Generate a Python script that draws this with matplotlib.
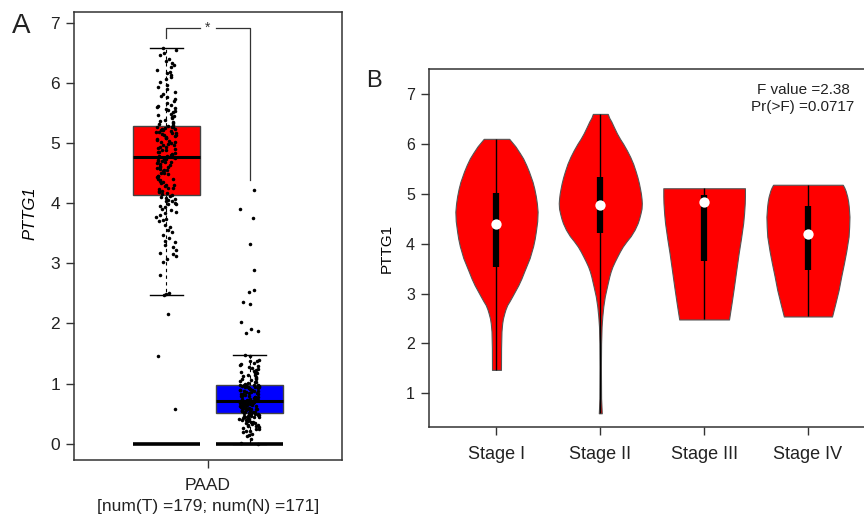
import numpy as np
import matplotlib
matplotlib.use("Agg")
import matplotlib.pyplot as plt

plt.rcParams['font.family'] = ['Liberation Sans', 'DejaVu Sans']
TXT = '#222222'
plt.rcParams['text.color'] = TXT
plt.rcParams['axes.edgecolor'] = '#333333'
plt.rcParams['xtick.color'] = '#333333'
plt.rcParams['ytick.color'] = '#333333'
plt.rcParams['xtick.labelcolor'] = TXT
plt.rcParams['ytick.labelcolor'] = TXT

# ---- panel A data (PAAD tumor vs normal) ----
groups = ['Tumor', 'Normal']
box_q1 = [4.14, 0.51]
box_med = [4.77, 0.71]
box_q3 = [5.28, 0.98]
whis_lo = [2.48, 0.0]
whis_hi = [6.58, 1.48]
box_colors = ['#FF0000', '#0000FF']

tumor_vals = [0.58, 1.46, 2.16, 2.48, 2.49, 2.51, 2.80, 3.03, 3.07, 3.12, 3.15, 3.18,
              3.22, 3.27, 3.31, 3.35, 3.38, 3.42, 3.47, 3.52, 3.55, 3.61, 3.64, 3.70,
              3.72, 3.74, 3.77, 3.80, 3.83, 3.85, 3.88, 3.91, 3.93, 3.96, 3.98, 3.99,
              4.01, 4.03, 4.04, 4.06, 4.07, 4.09, 4.10, 4.12, 4.13,
              4.15, 4.17, 4.18, 4.20, 4.21, 4.23, 4.25, 4.26, 4.28, 4.30, 4.31, 4.33,
              4.35, 4.37, 4.38, 4.40, 4.41, 4.43, 4.45, 4.46, 4.48, 4.50, 4.51, 4.53,
              4.55, 4.56, 4.57, 4.59, 4.60, 4.61, 4.62, 4.64, 4.65, 4.67, 4.68, 4.69,
              4.70, 4.71, 4.72, 4.73, 4.74, 4.75, 4.76, 4.76, 4.77,
              4.78, 4.79, 4.80, 4.81, 4.82, 4.84, 4.85, 4.86, 4.88, 4.89, 4.90, 4.92,
              4.93, 4.94, 4.96, 4.97, 4.98, 5.00, 5.01, 5.02, 5.04, 5.05, 5.06, 5.08,
              5.09, 5.10, 5.12, 5.13, 5.14, 5.15, 5.16, 5.17, 5.18, 5.19, 5.20, 5.21,
              5.22, 5.23, 5.24, 5.25, 5.26, 5.27, 5.27, 5.28,
              5.30, 5.32, 5.33, 5.35, 5.37, 5.39, 5.41, 5.43, 5.45, 5.47, 5.49, 5.51,
              5.53, 5.55, 5.56, 5.58, 5.60, 5.62, 5.64, 5.66, 5.70, 5.73, 5.76, 5.79,
              5.82, 5.85, 5.90, 5.93, 5.97, 6.02, 6.06, 6.10, 6.13, 6.16, 6.19, 6.22,
              6.26, 6.30, 6.33, 6.36, 6.40, 6.46, 6.50, 6.55, 6.58]

normal_vals = [0.00, 0.01, 0.08, 0.13, 0.15, 0.17, 0.19, 0.21, 0.22, 0.24, 0.25, 0.27,
               0.28, 0.29, 0.30, 0.31, 0.32, 0.33, 0.34, 0.35, 0.36, 0.37, 0.38, 0.39,
               0.40, 0.41, 0.42, 0.43, 0.43, 0.44, 0.45, 0.45, 0.46, 0.47, 0.47, 0.48,
               0.48, 0.49, 0.49, 0.50, 0.50, 0.51, 0.51,
               0.52, 0.52, 0.53, 0.54, 0.54, 0.55, 0.56, 0.56, 0.57, 0.57, 0.58, 0.58,
               0.59, 0.59, 0.60, 0.60, 0.61, 0.61, 0.62, 0.62, 0.63, 0.63, 0.64, 0.64,
               0.65, 0.65, 0.66, 0.66, 0.66, 0.67, 0.67, 0.68, 0.68, 0.68, 0.69, 0.69,
               0.69, 0.70, 0.70, 0.70, 0.70, 0.71, 0.71,
               0.72, 0.72, 0.73, 0.74, 0.74, 0.75, 0.76, 0.77, 0.77, 0.78, 0.79, 0.80,
               0.80, 0.81, 0.82, 0.83, 0.83, 0.84, 0.85, 0.86, 0.86, 0.87, 0.88, 0.88,
               0.89, 0.90, 0.90, 0.91, 0.92, 0.92, 0.93, 0.94, 0.94, 0.95, 0.95, 0.96,
               0.96, 0.97, 0.97, 0.98, 0.98, 0.98,
               1.00, 1.01, 1.02, 1.03, 1.05, 1.06, 1.07, 1.08, 1.10, 1.11, 1.12, 1.14,
               1.15, 1.17, 1.18, 1.20, 1.21, 1.23, 1.25, 1.26, 1.28, 1.30, 1.31, 1.33,
               1.35, 1.37, 1.38, 1.40, 1.46, 1.47,
               1.85, 1.88, 1.91, 2.03, 2.33, 2.36, 2.52, 2.55, 2.89, 3.33, 3.76, 3.91, 4.22]

# ---- panel B data (violins by stage) ----
stages = ['Stage I', 'Stage II', 'Stage III', 'Stage IV']
v_min = [1.47, 0.60, 2.48, 2.54]
v_max = [6.10, 6.60, 5.11, 5.18]
v_q1 = [3.54, 4.22, 3.66, 3.47]
v_med = [4.39, 4.78, 4.84, 4.19]
v_q3 = [5.01, 5.34, 4.98, 4.76]
# density profiles (expression level, relative density)
dens_y = [
    [6.10, 5.95, 5.82, 5.71, 5.58, 5.45, 5.24, 5.10, 4.95, 4.80, 4.64, 4.45, 4.24, 4.10,
     3.95, 3.71, 3.45, 3.30, 3.17, 2.95, 2.85, 2.77, 2.68, 2.60, 2.50, 2.40, 2.24, 1.90,
     1.47],
    [6.60, 6.52, 6.45, 6.33, 6.21, 6.10, 6.00, 5.87, 5.74, 5.60, 5.45, 5.33, 5.21, 5.10,
     5.00, 4.90, 4.81, 4.70, 4.60, 4.50, 4.41, 4.28, 4.15, 4.05, 3.94, 3.84, 3.74, 3.64,
     3.54, 3.44, 3.34, 3.14, 2.94, 2.74, 2.54, 2.34, 2.00, 1.53, 0.90, 0.60],
    [5.11, 4.95, 4.81, 4.60, 4.41, 4.10, 3.81, 3.50, 3.14, 2.80, 2.48],
    [5.18, 5.12, 5.06, 4.94, 4.84, 4.74, 4.54, 4.34, 4.14, 3.85, 3.61, 3.35, 3.07, 2.80,
     2.54],
]
dens_w = [
    [12.8, 19.0, 23.3, 26.7, 29.8, 32.5, 36.2, 38.0, 39.5, 40.6, 41.3, 40.9, 39.5, 38.4,
     36.8, 33.3, 28.0, 25.0, 22.0, 16.0, 13.2, 10.8, 9.0, 7.8, 6.5, 5.7, 5.0, 4.6, 4.5],
    [7.5, 9.0, 11.0, 13.8, 16.7, 19.8, 23.0, 26.7, 30.0, 33.0, 35.5, 37.3, 38.8, 39.9,
     40.8, 41.4, 41.7, 41.4, 40.3, 39.0, 37.5, 34.5, 30.5, 26.5, 22.5, 19.6, 17.0, 14.5,
     12.2, 10.4, 9.0, 6.7, 4.5, 3.0, 2.0, 1.3, 0.8, 0.6, 0.8, 1.5],
    [41.0, 41.0, 40.8, 40.1, 39.2, 37.0, 34.7, 32.5, 30.0, 27.5, 25.0],
    [35.0, 36.6, 37.8, 39.5, 40.4, 41.0, 41.7, 41.4, 40.8, 38.5, 36.2, 33.5, 30.8, 27.5,
     24.2],
]
f_text = 'F value =2.38\nPr(>F) =0.0717'

fig = plt.figure(figsize=(8.64, 5.19), dpi=100)

# ================= panel A =================
axA = fig.add_axes([74 / 864, 1 - 460 / 519, 268 / 864, 448 / 519])
pos = [-0.31, 0.31]
stats = []
for i in range(2):
    stats.append({'med': box_med[i], 'q1': box_q1[i], 'q3': box_q3[i],
                  'whislo': whis_lo[i], 'whishi': whis_hi[i], 'fliers': []})
bp = axA.bxp(stats, positions=pos, widths=0.5, patch_artist=True, showfliers=False,
             capwidths=0.25,
             boxprops=dict(edgecolor='#444444', linewidth=1.0),
             whiskerprops=dict(color='black', linewidth=0.8, linestyle=(0, (3, 3))),
             capprops=dict(color='black', linewidth=1.0),
             medianprops=dict(color='black', linewidth=2.2))
for patch, c in zip(bp['boxes'], box_colors):
    patch.set_facecolor(c)

for p in pos:
    axA.hlines(0, p - 0.25, p + 0.25, color='black', lw=2.6, zorder=2.5)

# deterministic jitter (hash of the index) so points spread like a strip chart
for p, vals in zip(pos, [tumor_vals, normal_vals]):
    idx = np.arange(len(vals)) + 1.0
    h = np.sin(idx * 12.9898) * 43758.5453
    jit = (h - np.floor(h) - 0.5) * 0.15
    axA.scatter(p + jit, vals, s=6.5, color='black', linewidths=0, zorder=4)

# significance bracket
axA.plot([pos[0], pos[0], -0.06], [6.75, 6.92, 6.92], color='#333333', lw=0.9)
axA.plot([0.06, pos[1], pos[1]], [6.92, 6.92, 4.39], color='#333333', lw=0.9)
axA.text(0, 6.92, '*', ha='center', va='center', fontsize=10, color='#333333')

axA.set_xlim(-1, 1)
axA.set_ylim(-0.27, 7.18)
axA.set_yticks(range(0, 8))
axA.set_xticks([0])
axA.set_xticklabels([''])
axA.tick_params(axis='both', length=6, width=1, labelsize=12.5, pad=4)
axA.set_ylabel('PTTG1', fontsize=12, style='italic')
axA.yaxis.set_label_coords(-0.138, 0.55)
for s in axA.spines.values():
    s.set_linewidth(1.1)

fig.text(208 / 864, 1 - 486 / 519, 'PAAD', ha='center', va='center', fontsize=12.5)
fig.text(208 / 864, 1 - 506 / 519, '[num(T) =179; num(N) =171]', ha='center',
         va='center', fontsize=12.5)
fig.text(12 / 864, 1 - 13 / 519, 'A', ha='left', va='top', fontsize=20)

# ================= panel B =================
axB = fig.add_axes([429 / 864, 1 - 427 / 519, 435 / 864, 358 / 519])
wscale = 0.40 / 41.7
for i in range(4):
    x = i + 1
    y = np.array(dens_y[i])
    w = np.array(dens_w[i]) * wscale
    axB.fill_betweenx(y, x - w, x + w, facecolor='#FF0000', edgecolor='#555555',
                      linewidth=0.8, zorder=2)
    axB.vlines(x, v_min[i], v_max[i], color='black', lw=1.0, zorder=3)
    axB.vlines(x, v_q1[i], v_q3[i], color='black', lw=4.5, zorder=3)
    axB.scatter([x], [v_med[i]], s=55, color='white', linewidths=0, zorder=4)

axB.text(0.86, 0.96, f_text, transform=axB.transAxes, ha='center', va='top',
         fontsize=11, linespacing=1.25)

axB.set_xlim(0.35, 4.54)
axB.set_ylim(0.325, 7.5)
axB.set_yticks(range(1, 8))
axB.set_xticks(range(1, 5))
axB.set_xticklabels(stages)
axB.tick_params(axis='y', length=6, width=1, labelsize=11.5, pad=4)
axB.tick_params(axis='x', length=6, width=1, labelsize=13, pad=8)
axB.set_ylabel('PTTG1', fontsize=11)
axB.yaxis.set_label_coords(-0.08, 0.5)
axB.spines['right'].set_visible(False)
for s in axB.spines.values():
    s.set_linewidth(1.1)
fig.text(366 / 864, 1 - 70 / 519, 'B', ha='left', va='top', fontsize=17)

fig.savefig('out.png', dpi=100)
